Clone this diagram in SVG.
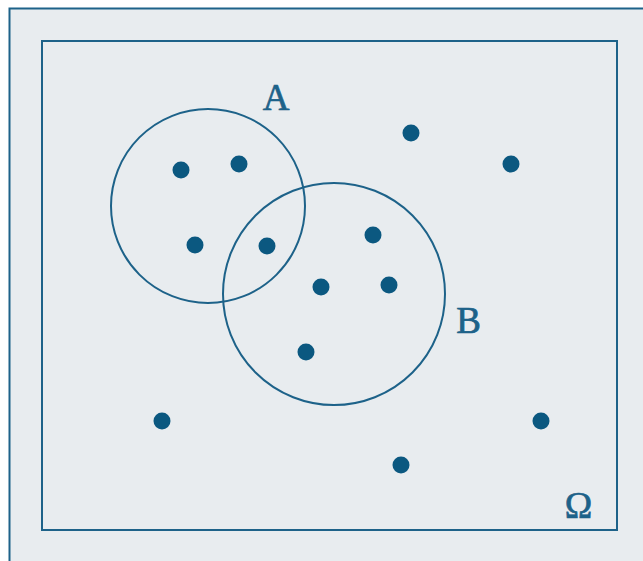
<svg xmlns="http://www.w3.org/2000/svg" width="643" height="561" viewBox="0 0 643 561">
<style>
.frame{fill:none;stroke:#1d6289;stroke-width:2}
.set{fill:none;stroke:#1d6289;stroke-width:2}
.pt{fill:#0b5880}
.lbl{font-family:"Liberation Serif","DejaVu Serif",serif;font-size:37px;fill:#1d6289;stroke:#1d6289;stroke-width:0.7;text-anchor:middle}
</style>
<rect width="643" height="561" fill="#ffffff"/>
<rect x="9.5" y="8.5" width="650" height="560" fill="#e8ecef" stroke="#1d6289" stroke-width="2"/>
<g id="omega">
<rect x="42" y="41" width="575" height="489" class="frame"/>
<text x="578.5" y="518" class="lbl">Ω</text>
</g>
<g id="setA">
<circle cx="208" cy="206" r="97" class="set"/>
<text x="276" y="110" class="lbl">A</text>
</g>
<g id="setB">
<circle cx="334" cy="294" r="111" class="set"/>
<text x="468.5" y="333" class="lbl">B</text>
</g>
<g id="points">
<circle cx="181" cy="170" r="8.5" class="pt"/>
<circle cx="239" cy="164" r="8.5" class="pt"/>
<circle cx="195" cy="245" r="8.5" class="pt"/>
<circle cx="267" cy="246" r="8.5" class="pt"/>
<circle cx="373" cy="235" r="8.5" class="pt"/>
<circle cx="321" cy="287" r="8.5" class="pt"/>
<circle cx="389" cy="285" r="8.5" class="pt"/>
<circle cx="306" cy="352" r="8.5" class="pt"/>
<circle cx="411" cy="133" r="8.5" class="pt"/>
<circle cx="511" cy="164" r="8.5" class="pt"/>
<circle cx="162" cy="421" r="8.5" class="pt"/>
<circle cx="541" cy="421" r="8.5" class="pt"/>
<circle cx="401" cy="465" r="8.5" class="pt"/>
</g>
<g id="connectors"></g>
</svg>
